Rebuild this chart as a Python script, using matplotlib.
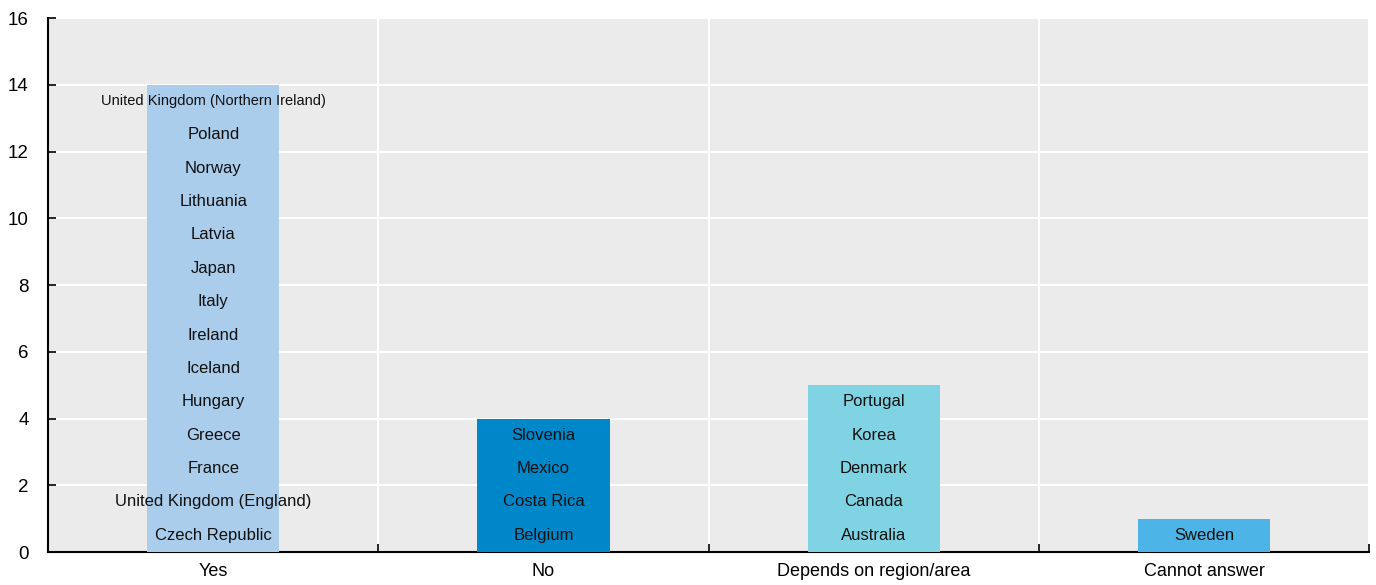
import matplotlib

matplotlib.use("Agg")
import matplotlib.pyplot as plt
from matplotlib.ticker import FixedLocator, MultipleLocator

# data
CATEGORIES = ["Yes", "No", "Depends on region/area", "Cannot answer"]
COUNTS = [14, 4, 5, 1]
COUNTRIES_YES = [
    "Czech Republic", "United Kingdom (England)", "France", "Greece", "Hungary",
    "Iceland", "Ireland", "Italy", "Japan", "Latvia", "Lithuania", "Norway",
    "Poland", "United Kingdom (Northern Ireland)",
]
COUNTRIES_NO = ["Belgium", "Costa Rica", "Mexico", "Slovenia"]
COUNTRIES_DEPENDS = ["Australia", "Canada", "Denmark", "Korea", "Portugal"]
COUNTRIES_CANNOT = ["Sweden"]
COUNTRY_LISTS = [COUNTRIES_YES, COUNTRIES_NO, COUNTRIES_DEPENDS, COUNTRIES_CANNOT]

BAR_COLORS = ["#abcdec", "#0087ca", "#80d3e3", "#4cb4e6"]
BG = "#ebebeb"

plt.rcParams.update(
    {
        "font.family": ["Liberation Sans", "DejaVu Sans"],
        "font.size": 12,
        "figure.facecolor": "white",
    }
)

fig = plt.figure(figsize=(13.76, 5.85), dpi=100)
ax = fig.add_axes([0.035, 0.0564, 0.960, 0.9128])
ax.set_facecolor(BG)

x = list(range(len(CATEGORIES)))
ax.bar(x, COUNTS, width=0.4, color=BAR_COLORS, zorder=3)

for xi, names in zip(x, COUNTRY_LISTS):
    for i, name in enumerate(names):
        small = len(name) > 28
        ax.text(
            xi, i + 0.5, name,
            ha="center", va="center",
            fontsize=10.5 if small else 12,
            color="#111111", zorder=4,
        )

ax.set_xlim(-0.5, len(CATEGORIES) - 0.5)
ax.set_ylim(0, 16)
ax.yaxis.set_major_locator(MultipleLocator(2))
ax.set_xticks(x, CATEGORIES)
ax.xaxis.set_minor_locator(FixedLocator([v - 0.5 for v in range(len(CATEGORIES) + 1)]))

ax.grid(axis="y", which="major", color="white", linewidth=1.5, zorder=1)
ax.grid(axis="x", which="minor", color="white", linewidth=1.5, zorder=1)
ax.grid(axis="x", which="major", visible=False)
ax.set_axisbelow(True)

ax.tick_params(axis="x", which="major", length=0, labelsize=13, pad=8)
ax.tick_params(axis="x", which="minor", direction="in", length=6, width=1.2, color="black")
ax.tick_params(axis="y", direction="in", length=6, width=1.2, labelsize=13.5, pad=14)

for spine in ["top", "right"]:
    ax.spines[spine].set_visible(False)
ax.spines["left"].set_linewidth(1.5)
ax.spines["bottom"].set_linewidth(1.5)

fig.savefig("out.png", dpi=100)
